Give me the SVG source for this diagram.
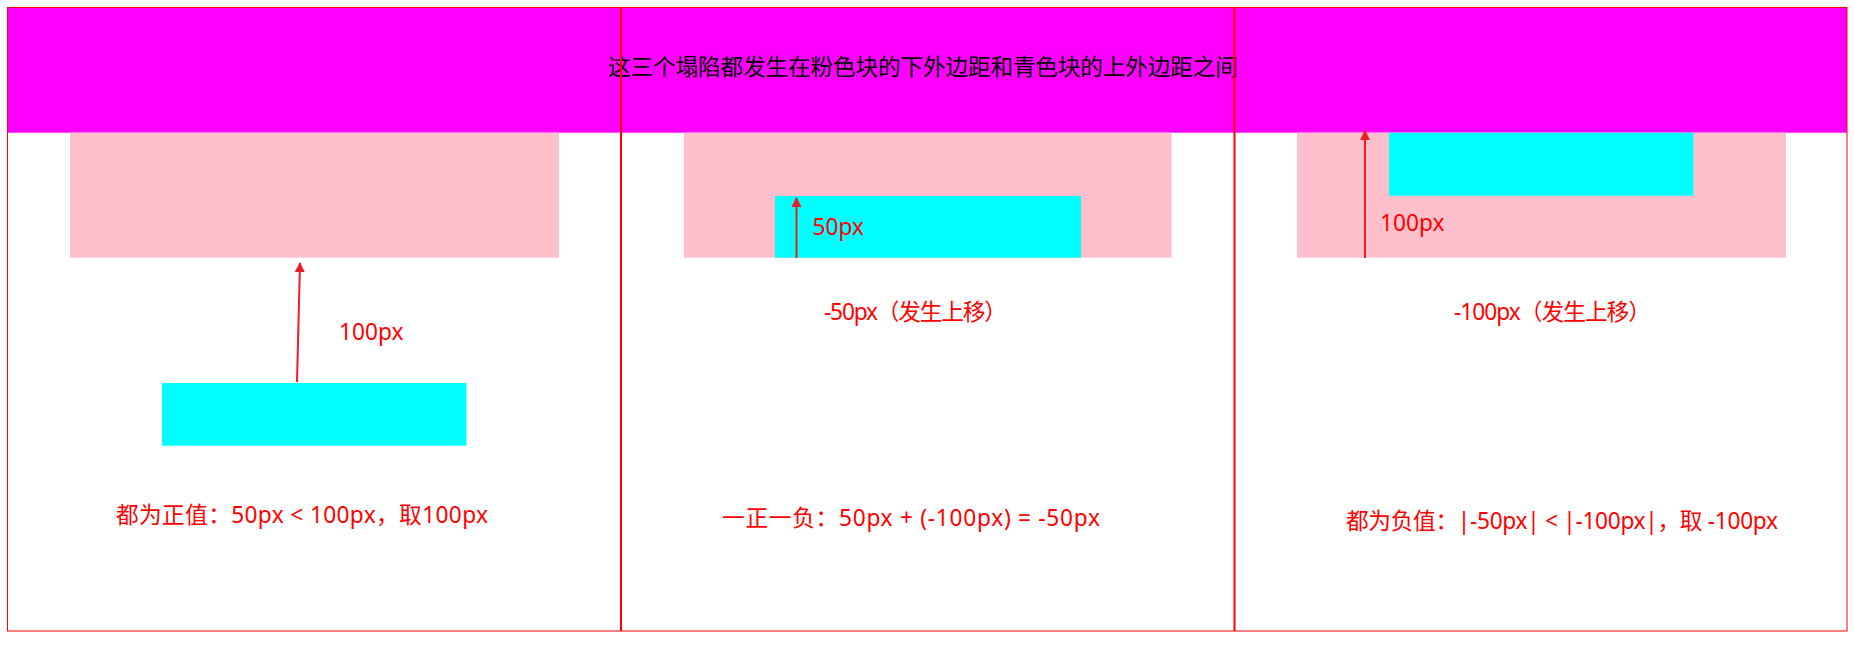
<svg xmlns="http://www.w3.org/2000/svg" width="1854" height="645" viewBox="0 0 1854 645">
<style>
.pink{fill:#FFC0CB}
.cyan{fill:#00FFFF}
.lbl{font-family:"Noto Sans","Noto Sans CJK SC",sans-serif;font-size:22.7px;fill:#f00}
.hdr{font-family:"Noto Sans","Noto Sans CJK SC",sans-serif;font-size:22.7px;fill:#000}
.arr{stroke:#ee1c25;stroke-width:2;fill:none}
</style>
<defs>
<marker id="ah" viewBox="0 0 10 10" refX="9" refY="5" markerWidth="5" markerHeight="5" orient="auto" markerUnits="strokeWidth">
<path d="M0,0 L10,5 L0,10 z" fill="#ee1c25"/>
</marker>
</defs>
<rect width="1854" height="645" fill="#fff"/>
<g id="header">
<rect x="7.5" y="7.5" width="1839.5" height="125.2" fill="#FF00FF"/>
<text class="hdr" x="608" y="75" textLength="630">这三个塌陷都发生在粉色块的下外边距和青色块的上外边距之间</text>
</g>
<g id="col1">
<rect class="pink" x="70" y="132.7" width="489" height="125"/>
<rect class="cyan" x="162" y="383" width="304.5" height="62.7"/>
<text class="lbl" x="339" y="340">100px</text>
<text class="lbl" x="116" y="523" textLength="372">都为正值：50px &lt; 100px，取100px</text>
</g>
<g id="col2">
<rect class="pink" x="684" y="132.7" width="487.5" height="125"/>
<rect class="cyan" x="775" y="196" width="306" height="61.7"/>
<text class="lbl" x="812.5" y="235">50px</text>
<text class="lbl" x="824" y="320" textLength="183">-50px（发生上移）</text>
<text class="lbl" x="722" y="526" textLength="378">一正一负：50px + (-100px) = -50px</text>
</g>
<g id="col3">
<rect class="pink" x="1297" y="132.7" width="489" height="125"/>
<rect class="cyan" x="1389" y="132.7" width="304.5" height="63"/>
<text class="lbl" x="1380" y="231">100px</text>
<text class="lbl" x="1454" y="320" textLength="197">-100px（发生上移）</text>
<text class="lbl" x="1346" y="529" textLength="432">都为负值：|-50px| &lt; |-100px|，取 -100px</text>
</g>
<g id="frame" fill="none" stroke="#f00">
<rect x="7.5" y="7.5" width="1839.5" height="623.5" stroke-width="1"/>
<line x1="621" y1="7" x2="621" y2="631" stroke-width="2"/>
<line x1="1234.5" y1="7" x2="1234.5" y2="631" stroke-width="2"/>
</g>
<g id="connectors">
<line class="arr" x1="297" y1="382" x2="300" y2="263" marker-end="url(#ah)"/>
<line class="arr" x1="796.5" y1="258" x2="796.5" y2="198" marker-end="url(#ah)"/>
<line class="arr" x1="1365" y1="258" x2="1365" y2="131" marker-end="url(#ah)"/>
</g>
</svg>
